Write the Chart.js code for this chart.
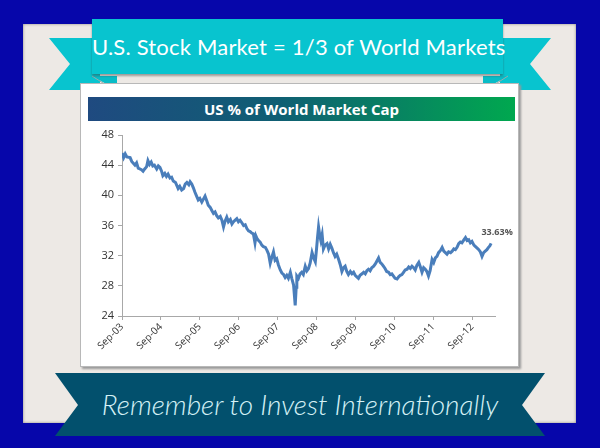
<!DOCTYPE html>
<html>
<head>
<meta charset="utf-8">
<script src="https://cdn.jsdelivr.net/npm/chart.js@4.4.0/dist/chart.umd.min.js"></script>
<style>
  html, body { margin: 0; padding: 0; }
  body { width: 600px; height: 448px; background: #0606aa; position: relative; overflow: hidden; font-family: 'Lato', 'Open Sans', sans-serif; }
  .panel { position: absolute; left: 23px; top: 24px; width: 553px; height: 399px; background: #ede9e5; box-shadow: inset 0 0 3px #8a8680; }
  .card { position: absolute; left: 80px; top: 83px; width: 437px; height: 282px; background: #fff; border: 1px solid #b8b8b8; box-shadow: 2px 2px 2px #9a9a9a; }
  .chart-title { position: absolute; left: 88px; top: 97px; width: 427px; height: 24px; background: linear-gradient(to right, #1f4a80, #0f5f73 45%, #00a84f); color: #fff; font: bold 15px 'Open Sans', sans-serif; text-align: center; line-height: 24px; }
  .ribbons { position: absolute; left: 0; top: 0; }
  .top-banner { position: absolute; left: 92px; top: 19px; width: 411px; height: 55px; background: #08c4cf; box-shadow: 0 2px 2px rgba(60,60,60,0.45); color: #fff; font-size: 22px; text-align: center; line-height: 56px; white-space: nowrap; letter-spacing: 0.2px; }
  .bottom-text { position: absolute; left: 55px; top: 373px; width: 490px; height: 63px; color: #d4f1f6; font: italic 300 28px 'Lato', sans-serif; text-align: center; line-height: 63px; white-space: nowrap; }
  #wrap { position: absolute; left: 80px; top: 121px; width: 439px; height: 246px; }
</style>
</head>
<body>
<div class="panel"></div>
<svg class="ribbons" width="600" height="448">
  <!-- top ribbon tails and folds -->
  <polygon points="49,38 100,38 100,90 49,90 70,64" fill="#08c4cf"/>
  <polygon points="551,38 500,38 500,90 551,90 530,64" fill="#08c4cf"/>
  <polygon points="92,76 117,76 117,90" fill="#08bcc7"/>
  <polygon points="508,76 483,76 483,90" fill="#08bcc7"/>
  <line x1="92" y1="76" x2="114" y2="90" stroke="#9aa" stroke-width="1"/>
  <line x1="508" y1="76" x2="486" y2="90" stroke="#9aa" stroke-width="1"/>
</svg>
<div class="card"></div>
<div class="chart-title">US % of World Market Cap</div>
<div class="top-banner">U.S. Stock Market = 1/3 of World Markets</div>
<svg class="ribbons" width="600" height="448">
  <polygon points="55,373 545,373 522,405 545,436 55,436 78,405" fill="#02506d"/>
</svg>
<div class="bottom-text">Remember to Invest Internationally</div>
<div id="wrap"><canvas id="chart" width="439" height="246"></canvas></div>

<script>
// months after Sep-03
const months = [
  0, 0.5, 1, 1.5, 2.5, 3, 4, 4.5, 5, 6, 6.5, 7, 7.6, 8, 8.5, 9, 9.5, 10, 10.7, 11.2,
  11.7, 12.2, 12.6, 13.2, 13.7, 14.2, 14.8, 15.3, 15.8, 16.5, 17.3, 17.8, 18.4, 19, 19.5, 20,
  20.6, 21, 21.5, 22, 22.5, 23, 23.5, 24, 24.6, 25.1, 25.6, 26.1, 26.6, 27.2, 27.7, 28.2,
  28.7, 29.2, 29.7, 30.3, 30.8, 31.3, 31.8, 32.3, 32.8, 33.4, 33.9, 34.4, 34.9, 35.4, 35.9,
  36.4, 36.9, 37.5, 38, 38.5, 39, 39.5, 40, 40.5, 41, 41.3, 41.6, 42.1, 42.6, 43.1, 43.6,
  44.2, 44.7, 45.2, 45.7, 46.2, 46.7, 47.2, 47.7, 48.2, 48.8, 49.3, 49.8, 50.3, 50.8, 51.3,
  51.9, 52.4, 52.9, 53.2, 53.4, 53.7, 53.9, 54.4, 54.9, 55.4, 55.9, 56.5, 57, 57.5, 58,
  58.6, 59.1, 59.6, 60, 60.3, 60.6, 61, 61.3, 61.7, 62.1, 62.6, 63.2, 63.7, 64.2, 64.7,
  65.2, 65.7, 66.2, 66.8, 67.3, 67.8, 68.3, 68.8, 69.3, 69.8, 70.4, 70.9, 71.4, 71.9, 72.4,
  72.9, 73.4, 74, 74.5, 75, 75.5, 76, 76.5, 77, 77.6, 78.1, 78.6, 79.1, 79.6, 80.1, 80.6,
  81.1, 81.6, 82.2, 82.7, 83.2, 83.7, 84.2, 84.8, 85.3, 85.8, 86.3, 86.8, 87.3, 87.9, 88.4,
  88.9, 89.4, 89.9, 90.4, 90.9, 91.5, 92, 92.5, 93, 93.5, 94, 94.5, 95, 95.6, 96.1, 96.6,
  97.1, 97.6, 98.2, 98.7, 99.2, 99.7, 100.2, 100.7, 101.3, 101.8, 102.3, 102.8, 103.3,
  103.8, 104.3, 104.8, 105.4, 105.9, 106.4, 106.9, 107.4, 107.9, 108.5, 109, 109.5, 110,
  110.5, 111, 111.5, 112, 112.5, 113, 113.4, 113.8
];

// US share of world market cap (%)
const usShare = [
  45.6, 45.0, 45.5, 45.1, 45.0, 44.5, 44.0, 44.3, 43.6, 43.4, 43.2, 43.5, 43.8, 44.6, 44.1, 44.4, 43.9, 44.0, 43.5, 43.9,
  43.7, 43.2, 42.6, 42.9, 42.5, 42.8, 42.3, 42.4, 41.9, 41.7, 40.9, 41.2, 40.7, 40.9, 41.5, 41.7,
  41.4, 41.8, 41.5, 41.0, 40.4, 39.9, 39.4, 39.6, 39.1, 39.5, 39.9, 39.3, 38.7, 38.4, 38.0, 37.6,
  37.8, 37.3, 37.0, 37.2, 36.7, 35.8, 36.6, 37.1, 36.5, 36.8, 36.2, 36.5, 36.7, 36.9, 36.5,
  36.7, 36.4, 36.0, 36.1, 35.6, 35.3, 35.2, 35.0, 34.9, 33.7, 34.6, 34.3, 34.0, 33.8, 33.4, 33.2,
  33.1, 32.7, 32.2, 31.0, 31.8, 32.5, 31.4, 31.6, 30.8, 30.1, 29.7, 29.5, 29.1, 29.4, 29.0,
  29.8, 28.9, 28.1, 26.5, 25.4, 27.8, 29.3, 29.0, 29.6, 29.8, 29.5, 30.6, 30.0, 30.3, 31.0,
  32.4, 31.7, 31.2, 33.0, 34.5, 35.8, 34.6, 34.0, 34.8, 32.9, 33.4, 33.6, 32.9, 33.5, 33.0,
  32.4, 31.9, 32.2, 31.5, 30.8, 29.9, 30.4, 30.6, 29.9, 29.5, 29.9, 29.6, 29.8, 29.4, 29.2,
  29.0, 29.4, 29.6, 29.8, 29.6, 30.0, 30.2, 30.0, 30.4, 30.6, 30.9, 31.3, 31.7, 31.1, 30.9, 30.6,
  30.3, 29.9, 29.8, 29.5, 29.6, 29.3, 29.0, 28.9, 29.2, 29.4, 29.5, 29.8, 30.1, 30.2, 30.5,
  30.3, 30.6, 30.4, 30.1, 30.7, 31.1, 30.5, 29.8, 30.4, 30.2, 29.9, 29.3, 30.0, 31.5, 31.1, 31.7,
  31.9, 32.4, 32.7, 33.1, 32.6, 32.4, 32.2, 32.5, 32.4, 32.6, 32.9, 32.8, 33.1,
  33.6, 33.8, 33.7, 34.1, 34.4, 34.0, 34.1, 33.7, 33.9, 33.4, 33.2, 33.0, 32.8,
  32.5, 31.9, 32.4, 32.6, 32.8, 33.1, 33.3, 33.63
];

const xTickMonths = [0, 12, 24, 36, 48, 60, 72, 84, 96, 108];
const xTickLabels = ['Sep-03', 'Sep-04', 'Sep-05', 'Sep-06', 'Sep-07', 'Sep-08', 'Sep-09', 'Sep-10', 'Sep-11', 'Sep-12'];
const yTicks = [24, 28, 32, 36, 40, 44, 48];
const lastLabel = '33.63%';

const points = months.map((m, i) => ({ x: m, y: usShare[i] }));

// label next to the last point
const endLabel = {
    id: 'endLabel',
    afterDatasetsDraw(chart) {
        const meta = chart.getDatasetMeta(0);
        const pt = meta.data[meta.data.length - 1];
        const ctx = chart.ctx;
        ctx.save();
        ctx.font = 'bold 9px "Open Sans", sans-serif';
        ctx.fillStyle = '#555';
        ctx.textAlign = 'center';
        ctx.textBaseline = 'middle';
        ctx.fillText(lastLabel, pt.x + 6, pt.y - 11);
        ctx.restore();
    }
};

const axisColor = '#a8a8a8';

new Chart(document.getElementById('chart'), {
    type: 'line',
    data: {
        datasets: [{
            data: points,
            borderColor: '#4a7ebb',
            borderWidth: 3,
            pointRadius: 0,
            tension: 0,
            fill: false
        }]
    },
    options: {
        responsive: false,
        animation: false,
        events: [],
        layout: { padding: { top: 14, right: 24, left: 0, bottom: 0 } },
        plugins: { legend: { display: false }, tooltip: { enabled: false } },
        scales: {
            x: {
                type: 'linear',
                min: 0,
                max: 115,
                afterBuildTicks(scale) {
                    scale.ticks = xTickMonths.map(v => ({ value: v }));
                },
                afterFit(scale) { scale.height = 51; },
                ticks: {
                    autoSkip: false,
                    minRotation: 45,
                    maxRotation: 45,
                    padding: 1,
                    color: '#333',
                    font: { size: 10, family: "'Open Sans', sans-serif" },
                    callback: (v) => xTickLabels[xTickMonths.indexOf(v)]
                },
                grid: { drawOnChartArea: false, drawTicks: true, tickLength: 4, color: axisColor },
                border: { display: true, color: axisColor, width: 1 }
            },
            y: {
                min: 24,
                max: 48,
                afterBuildTicks(scale) {
                    scale.ticks = yTicks.map(v => ({ value: v }));
                },
                afterFit(scale) { scale.width = 42; },
                ticks: {
                    padding: 4,
                    color: '#333',
                    font: { size: 11, family: "'Open Sans', sans-serif" }
                },
                grid: { drawOnChartArea: false, drawTicks: true, tickLength: 4, color: axisColor },
                border: { display: true, color: axisColor, width: 1 }
            }
        }
    },
    plugins: [endLabel]
});
</script>
</body>
</html>
